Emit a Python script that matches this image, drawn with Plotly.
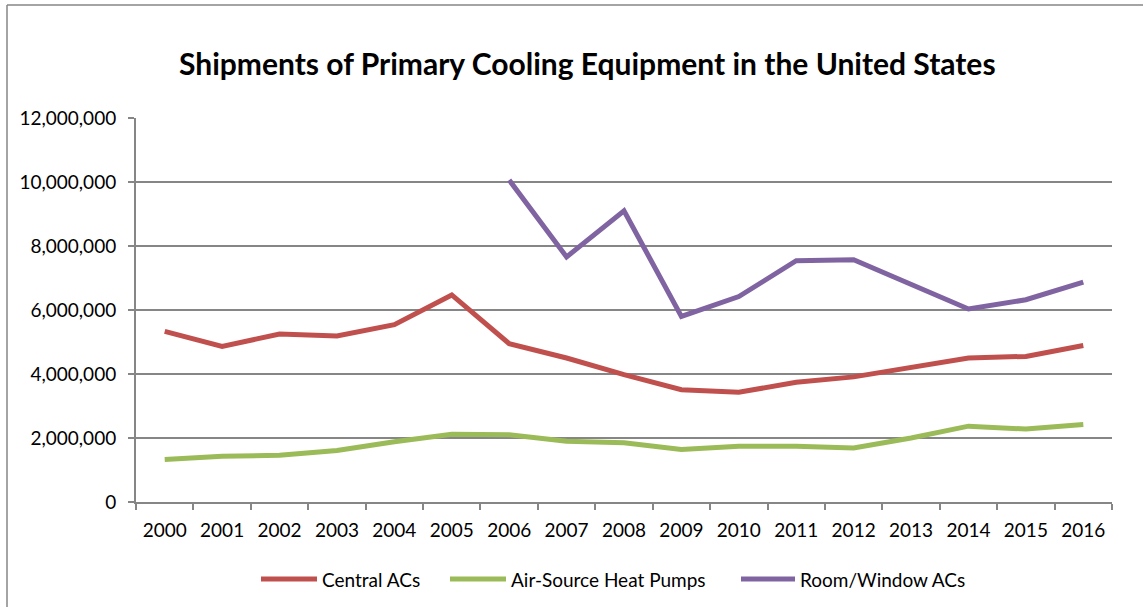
import plotly.graph_objects as go

years = [str(y) for y in range(2000, 2017)]

central_acs = [5330000, 4860000, 5250000, 5190000, 5540000, 6470000, 4950000,
               4500000, 3980000, 3510000, 3430000, 3740000, 3910000, 4210000,
               4500000, 4550000, 4890000]
heat_pumps = [1330000, 1430000, 1460000, 1610000, 1880000, 2120000, 2100000,
              1900000, 1850000, 1640000, 1740000, 1740000, 1690000, 2000000,
              2370000, 2280000, 2420000]
room_window_acs = [None, None, None, None, None, None, 10060000,
                   7660000, 9100000, 5800000, 6420000, 7540000, 7570000, 6790000,
                   6030000, 6320000, 6870000]

FONT = "Lato, 'Open Sans', sans-serif"
GRID = "#868686"

W, H = 1143, 607
L, R, T, B = 136, 31, 118, 105
pw, ph = W - L - R, H - T - B


def px_x(x):
    return (x - L) / pw


def px_y(y):
    return (H - B - y) / ph


fig = go.Figure()
series = [
    ("Central ACs", central_acs, "#C0504D"),
    ("Air-Source Heat Pumps", heat_pumps, "#9BBB59"),
    ("Room/Window ACs", room_window_acs, "#8064A2"),
]
for name, vals, color in series:
    fig.add_trace(go.Scatter(
        x=years, y=vals, name=name, mode="lines",
        line=dict(color=color, width=5),
        connectgaps=False, showlegend=False,
    ))

# legend drawn beneath the axis: a line swatch followed by its label
legend_items = [(261, 317, 320), (450, 506, 509), (741, 795, 798)]
legend_y = 579
shapes = []
annotations = []
for (sx0, sx1, tx), (name, _, color) in zip(legend_items, series):
    shapes.append(dict(type="line", xref="paper", yref="paper",
                       x0=px_x(sx0), x1=px_x(sx1),
                       y0=px_y(legend_y), y1=px_y(legend_y),
                       line=dict(color=color, width=5)))
    annotations.append(dict(text=name, xref="paper", yref="paper",
                            x=px_x(tx), y=px_y(legend_y),
                            xanchor="left", yanchor="middle", showarrow=False,
                            font=dict(size=19, family=FONT, color="black")))

annotations.append(dict(
    text="<b>Shipments of Primary Cooling Equipment in the United States</b>",
    xref="paper", yref="paper", x=px_x(587), y=px_y(63),
    xanchor="center", yanchor="middle", showarrow=False,
    font=dict(size=30, family=FONT, color="black"),
))

# chart-area border (top and left edges)
shapes += [
    dict(type="line", xref="paper", yref="paper",
         x0=px_x(7), x1=px_x(7), y0=px_y(5), y1=px_y(H + 10),
         line=dict(color=GRID, width=1.5)),
    dict(type="line", xref="paper", yref="paper",
         x0=px_x(7), x1=px_x(W + 10), y0=px_y(5), y1=px_y(5),
         line=dict(color=GRID, width=1.5)),
]

fig.update_layout(
    width=W, height=H,
    margin=dict(l=L, r=R, t=T, b=B),
    paper_bgcolor="white", plot_bgcolor="white",
    font=dict(family=FONT, size=19, color="black"),
    showlegend=False,
    xaxis=dict(
        type="category", range=[-0.5, 16.5], showgrid=False,
        showline=True, linecolor=GRID, linewidth=2,
        ticks="outside", tickson="boundaries", ticklen=6,
        tickcolor=GRID, tickwidth=1.5,
        tickfont=dict(size=19), ticklabelstandoff=10,
    ),
    yaxis=dict(
        range=[0, 12000000], dtick=2000000, tickformat=",d",
        showgrid=True, gridcolor=GRID, gridwidth=1.5,
        showline=True, linecolor=GRID, linewidth=2,
        ticks="outside", ticklen=6, tickcolor=GRID, tickwidth=1.5,
        zeroline=False, tickfont=dict(size=19), ticklabelstandoff=8,
    ),
    annotations=annotations,
    shapes=shapes,
)

fig.write_html("out.html")
